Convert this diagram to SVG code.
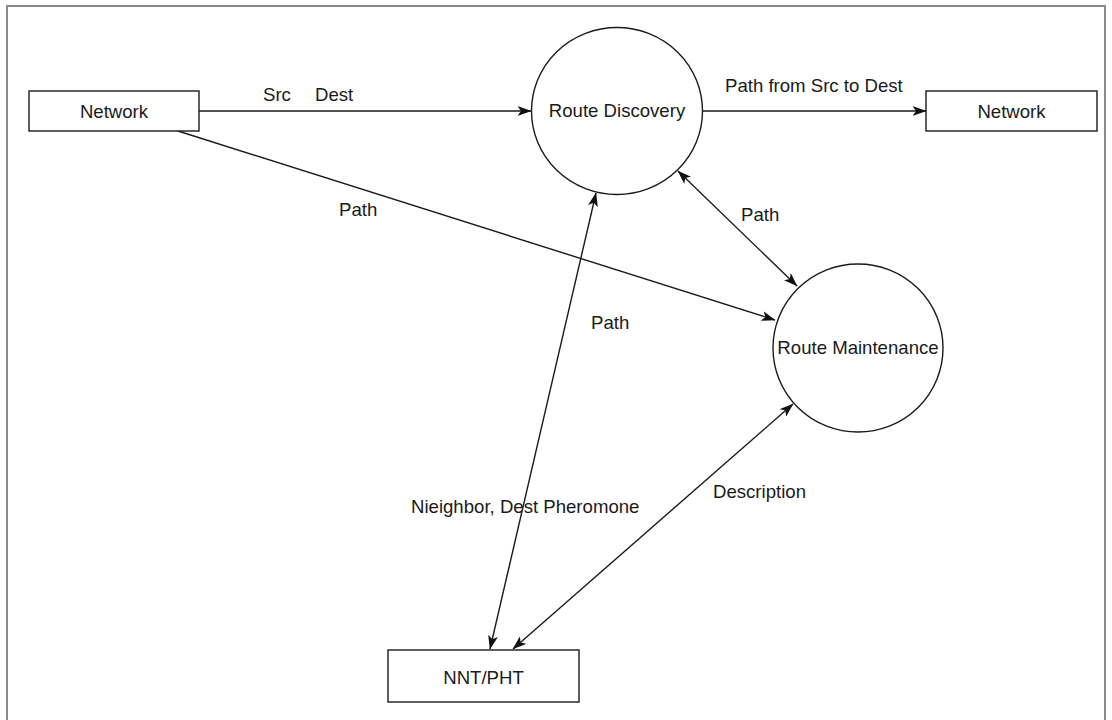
<svg xmlns="http://www.w3.org/2000/svg" width="1112" height="720" viewBox="0 0 1112 720">
<defs>
<marker id="arr" viewBox="0 0 14 10" refX="13.5" refY="5" markerWidth="14" markerHeight="10" markerUnits="userSpaceOnUse" orient="auto-start-reverse">
<path d="M0,0 L14,5 L0,10 L3.5,5 z" fill="#111"/>
</marker>
<style>
.box{fill:#fff;stroke:#1a1a1a;stroke-width:1.4}
.lbl{font-family:"Liberation Sans",Arial,sans-serif;font-size:18.6px;fill:#1a1a1a}
.mid{text-anchor:middle}
.edge{fill:none;stroke:#1a1a1a;stroke-width:1.4}
</style>
</defs>
<rect width="1112" height="720" fill="#fff"/>
<rect x="7" y="6" width="1098" height="730" fill="none" stroke="#8a8a8a" stroke-width="2"/>
<g id="connectors">
<line class="edge" x1="199" y1="111" x2="531" y2="111" marker-end="url(#arr)"/>
<line class="edge" x1="703" y1="111" x2="926" y2="111" marker-end="url(#arr)"/>
<line class="edge" x1="178" y1="131" x2="775" y2="320" marker-end="url(#arr)"/>
<line class="edge" x1="678" y1="171" x2="797" y2="286" marker-start="url(#arr)" marker-end="url(#arr)"/>
<line class="edge" x1="596" y1="193" x2="490" y2="649" marker-start="url(#arr)" marker-end="url(#arr)"/>
<line class="edge" x1="793" y1="404" x2="513" y2="649" marker-start="url(#arr)" marker-end="url(#arr)"/>
<text class="lbl" x="263" y="101" style="word-spacing:19px">Src Dest</text>
<text class="lbl" x="725" y="92">Path from Src to Dest</text>
<text class="lbl" x="339" y="216">Path</text>
<text class="lbl" x="741" y="221">Path</text>
<text class="lbl" x="591" y="329">Path</text>
<text class="lbl" x="411" y="513">Nieighbor, Dest Pheromone</text>
<text class="lbl" x="713" y="498">Description</text>
</g>
<g id="network-src">
<rect class="box" x="29" y="91" width="170" height="40"/>
<text class="lbl mid" x="114" y="117.5">Network</text>
</g>
<g id="route-discovery">
<ellipse class="box" cx="617" cy="111" rx="85.5" ry="83.5"/>
<text class="lbl mid" x="617" y="117">Route Discovery</text>
</g>
<g id="network-dest">
<rect class="box" x="926" y="91" width="171" height="40"/>
<text class="lbl mid" x="1011.5" y="117.5">Network</text>
</g>
<g id="route-maintenance">
<ellipse class="box" cx="858" cy="348" rx="85" ry="84"/>
<text class="lbl mid" x="858" y="354">Route Maintenance</text>
</g>
<g id="nnt-pht">
<rect class="box" x="388" y="650" width="191" height="52"/>
<text class="lbl mid" x="483.5" y="683.5">NNT/PHT</text>
</g>
</svg>
